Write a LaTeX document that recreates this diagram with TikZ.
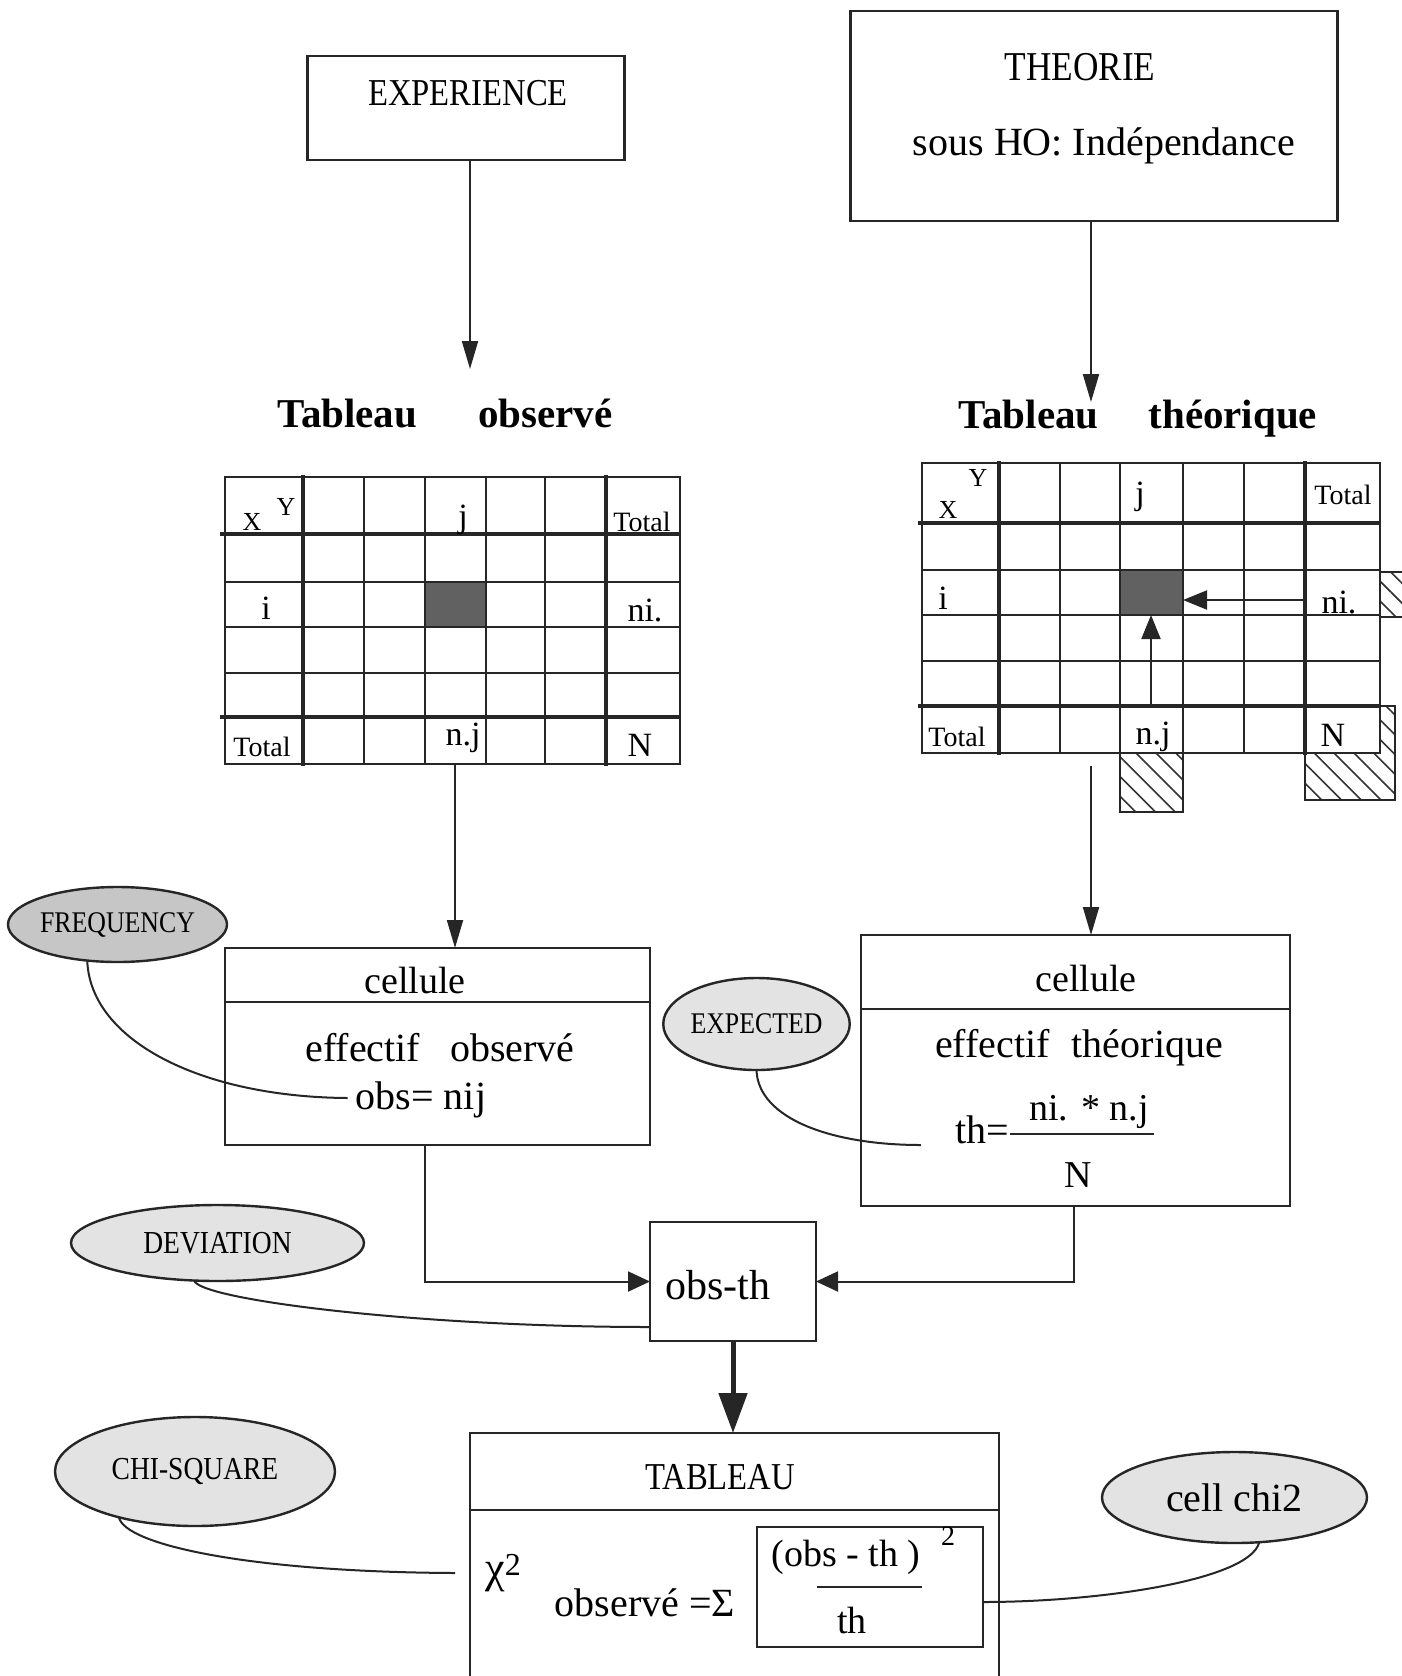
\documentclass[tikz,border=0pt]{standalone}
\usepackage{fontspec}
\setmainfont{Liberation Serif}
\usetikzlibrary{arrows.meta,shapes.geometric,patterns.meta}
\newcommand{\condtxt}[1]{\scalebox{0.86}[1]{#1}}
\tikzset{
  fs/.style={font=\fontsize{#1}{#1}\selectfont},
  fsb/.style={font=\fontsize{#1}{#1}\selectfont\bfseries},
  boxnode/.style={draw=black!85, line width=2.6pt, rectangle, inner sep=0pt, outer sep=0pt},
  bubble/.style={ellipse, draw=black!85, line width=2.4pt, fill=gray!22, inner sep=0pt, outer sep=0pt},
  link/.style={draw=black!85, line width=2pt},
  divline/.style={draw=black!85, line width=2.6pt},
  arr/.style={draw=black!85, line width=2pt, -{Triangle[length=28pt,width=16pt]}},
  arrh/.style={draw=black!85, line width=2pt, -{Triangle[length=22pt,width=20pt]}},
  arrthick/.style={draw=black!85, line width=5pt, -{Triangle[length=40pt,width=28pt]}},
  arrsmall/.style={draw=black!85, line width=2pt, -{Triangle[length=24pt,width=19pt]}},
  gthin/.style={draw=black!85, line width=2.2pt},
  gthick/.style={draw=black!85, line width=4.8pt},
  hatch/.style={pattern={Lines[angle=-45,distance=14pt,line width=1.6pt]}, pattern color=black!80},
  darkcell/.style={fill=black!62, inner sep=0pt, outer sep=0pt},
  txt/.style={inner sep=0pt},
}
\begin{document}
\begin{tikzpicture}[x=1pt,y=-1pt]
\fill[white] (0,0) rectangle (1402,1676);
\useasboundingbox (0,0) rectangle (1402,1676);

% ---------- top boxes ----------
\node[boxnode, minimum width=317pt, minimum height=104pt] (exp) at (466,108) {};
\node[txt, fs=38] (expt) at (468,93) {\condtxt{EXPERIENCE}};
\node[boxnode, minimum width=487pt, minimum height=210pt] (theo) at (1094,116) {};
\node[txt, fs=41] (theot) at (1080,67) {\condtxt{THEORIE}};
\node[txt, fs=40] (theos) at (1104,146) {sous HO: Indépendance};

\coordinate (expTip) at (470,369);
\draw[arr] (exp.south -| expTip) -- (expTip);
\coordinate (theoTip) at (1091,402);
\draw[arr] (theo.south -| theoTip) -- (theoTip);

\node[txt, fsb=41] (tobs) at (445,413) {Tableau\hspace{61pt}observé};
\node[txt, fsb=41] (tth) at (1138,419) {Tableau\hspace{50pt}théorique};

% ---------- observed table ----------
\node[darkcell, minimum width=61pt, minimum height=45pt] (ocell) at (455.5,604.5) {};
\foreach \x in {225,364,425,486,545,680} \draw[gthin] (\x,477) -- (\x,764);
\foreach \x in {303,606} \draw[gthick] (\x,475) -- (\x,766);
\foreach \y in {477,582,627,673,764} \draw[gthin] (224,\y) -- (681,\y);
\foreach \y in {534,717} \draw[gthick] (220,\y) -- (681,\y);
\node[txt, fs=26] (ox) at (252,522) {X};
\node[txt, fs=26] (oy) at (286,507) {Y};
\node[txt, fs=34] (oj) at (463,520) {j};
\node[txt, fs=28] (otot1) at (642,522) {Total};
\node[txt, fs=34] (oi) at (266,608) {i};
\node[txt, fs=34] (oni) at (645,610) {ni.};
\node[txt, fs=28] (otot2) at (262,747) {Total};
\node[txt, fs=34] (onj) at (463,738) {n.j};
\node[txt, fs=34] (oN) at (640,745) {N};

% ---------- theoretical table ----------
\fill[hatch] (1380,572) rectangle (1410,617);
\draw[gthin] (1410,572) -- (1380,572) -- (1380,617) -- (1410,617);
\fill[hatch] (1120,753) rectangle (1183,812);
\draw[gthin] (1120,753) rectangle (1183,812);
\fill[hatch] (1305,706) rectangle (1395,800);
\draw[gthin] (1305,706) rectangle (1395,800);
\fill[white] (1305,706) rectangle (1380,753);
\node[darkcell, minimum width=63pt, minimum height=45pt] (tcell) at (1151.5,592.5) {};
\foreach \x in {922,1060,1120,1183,1244,1380} \draw[gthin] (\x,463) -- (\x,753);
\foreach \x in {999,1305} \draw[gthick] (\x,461) -- (\x,755);
\foreach \y in {463,570,615,661,753} \draw[gthin] (921,\y) -- (1381,\y);
\foreach \y in {523,706} \draw[gthick] (918,\y) -- (1381,\y);
\node[txt, fs=26] (ty) at (978,478) {Y};
\node[txt, fs=26] (tx) at (948,510) {X};
\node[txt, fs=34] (tj) at (1140,497) {j};
\node[txt, fs=28] (ttot1) at (1343,495) {Total};
\node[txt, fs=34] (ti) at (943,598) {i};
\node[txt, fs=34] (tni) at (1339,602) {ni.};
\node[txt, fs=28] (ttot2) at (957,737) {Total};
\node[txt, fs=34] (tnj) at (1153,737) {n.j};
\node[txt, fs=34] (tN) at (1333,735) {N};
\coordinate (niStart) at (1303,600);
\draw[arrsmall] (niStart) -- (niStart -| tcell.east);
\coordinate (njStart) at (1151,706);
\draw[arrsmall] (njStart) -- (njStart |- tcell.south);

% ---------- cellule boxes ----------
\coordinate (obsOut) at (455,764);
\node[boxnode, minimum width=425pt, minimum height=197pt] (cobs) at (437.5,1046.5) {};
\draw[arr] (obsOut) -- (obsOut |- cobs.north);
\draw[divline] (cobs.west |- 0,1002) -- (cobs.east |- 0,1002);
\node[txt, fs=38] (cobst) at (415,980) {cellule};
\node[txt, fs=40] (cobse) at (440,1048) {effectif\hspace{30pt}observé};
\node[txt, fs=40] (obsnij) at (421,1100) {obs= nij};

\coordinate (thOut) at (1091,766);
\node[boxnode, minimum width=429pt, minimum height=271pt] (cth) at (1075.5,1070.5) {};
\draw[arr] (thOut) -- (thOut |- cth.north);
\draw[divline] (cth.west |- 0,1009) -- (cth.east |- 0,1009);
\node[txt, fs=38] (ctht) at (1086,978) {cellule};
\node[txt, fs=40] (cthe) at (1079,1048) {effectif\hspace{22pt}théorique};
\node[txt, fs=40] (theq) at (982,1130) {th=};
\draw[line width=2pt, black!85] (1010,1134) -- (1154,1134);
\node[txt, fs=38] (thnum) at (1089,1112) {ni. * n.j};
\node[txt, fs=38] (thden) at (1078,1175) {N};

% ---------- obs-th ----------
\node[boxnode, minimum width=166pt, minimum height=119pt] (obsth) at (733,1281.5) {};
\node[txt, fs=42] (obstht) at (718,1285) {obs-th};
\draw[arrh] ([xshift=-12.5pt]cobs.south) |- (obsth.west);
\draw[arrh] ([xshift=-1.5pt]cth.south) |- (obsth.east);

% ---------- TABLEAU ----------
\node[boxnode, minimum width=529pt, minimum height=267pt] (tab) at (734.5,1566.5) {};
\draw[arrthick] (obsth.south) -- (obsth.south |- tab.north);
\draw[divline] (tab.west |- 0,1510) -- (tab.east |- 0,1510);
\node[txt, fs=38] (tabt) at (720,1477) {\condtxt{TABLEAU}};
\node[boxnode, minimum width=226pt, minimum height=120pt] (inbox) at (870,1587) {};
\node[txt] (chi) at (503,1573) {\fontsize{44}{44}\selectfont χ\raisebox{7pt}{\fontsize{32}{32}\selectfont 2}};
\node[txt, fs=40] (obsv) at (645,1603) {observé =Σ};
\node[txt, fs=38] (fnum) at (846,1557) {(obs - th )};
\node[txt, fs=28] (fsq) at (948,1536) {2};
\draw[line width=2pt, black!85] (817,1587) -- (922,1587);
\node[txt, fs=38] (fden) at (852,1620) {th};

% ---------- bubbles ----------
\node[bubble, fill=gray!45, minimum width=219pt, minimum height=75pt, fs=30] (freq) at (117.5,924.5) {\condtxt{FREQUENCY}};
\node[bubble, minimum width=183pt, minimum height=92pt, fs=30] (expd) at (756.5,1024) {\condtxt{EXPECTED}};
\node[bubble, minimum width=293pt, minimum height=76pt, fs=32] (dev) at (217.5,1243) {\condtxt{DEVIATION}};
\node[bubble, minimum width=280pt, minimum height=109pt, fs=32] (chisq) at (195,1471.5) {\condtxt{CHI-SQUARE}};
\node[bubble, minimum width=265pt, minimum height=91pt, fs=40] (cchi) at (1234.5,1497.5) {cell chi2};

\draw[link] (freq.230) .. controls (90,1040) and (200,1097) .. ([xshift=-8pt,yshift=2pt]obsnij.west);
\draw[link] (expd.south) .. controls (758,1118) and (830,1145) .. ([xshift=-34pt,yshift=-15pt]theq.west);
\draw[link] (dev.238) .. controls (200,1300) and (420,1327) .. ([yshift=-45.5pt]obsth.west);
\draw[link] (chisq.211) .. controls (125,1545) and (250,1572) .. ([xshift=-30pt]chi.west);
\draw[link] (cchi.299) .. controls (1250,1580) and (1100,1602) .. ([yshift=-15pt]inbox.east);
\end{tikzpicture}
\end{document}
